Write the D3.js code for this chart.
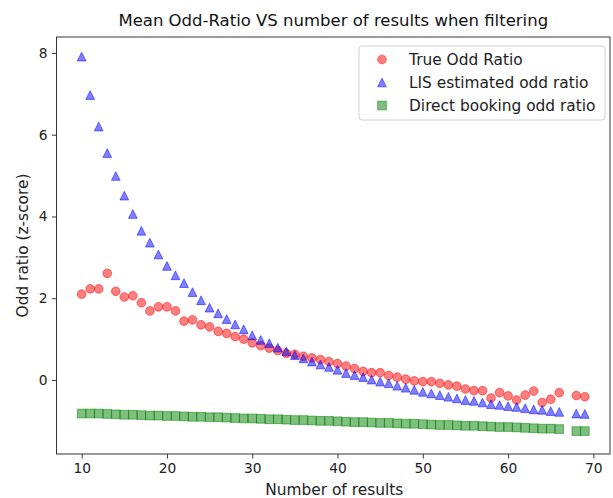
<!DOCTYPE html>
<html>
<head>
<meta charset="utf-8">
<script src="https://cdn.jsdelivr.net/npm/d3@7"></script>
<style>
  body { margin: 0; background: #fff; }
  text { font-family: "DejaVu Sans", sans-serif; fill: #000; }
  .tick-label { font-size: 13.8px; fill: #222; }
  .axis-label { font-size: 15.4px; fill: #222; }
  .legend-label { font-size: 15.4px; fill: #222; }
</style>
</head>
<body>
<div id="chart"></div>
<script>
// ---- data ----
const nResults = [10, 11, 12, 13, 14, 15, 16, 17, 18, 19,
                  20, 21, 22, 23, 24, 25, 26, 27, 28, 29,
                  30, 31, 32, 33, 34, 35, 36, 37, 38, 39,
                  40, 41, 42, 43, 44, 45, 46, 47, 48, 49,
                  50, 51, 52, 53, 54, 55, 56, 57, 58, 59,
                  60, 61, 62, 63, 64, 65, 66, 68, 69];

const trueOdd = [2.10, 2.23, 2.23, 2.61, 2.17, 2.03, 2.06, 1.89, 1.69, 1.79,
                 1.79, 1.69, 1.44, 1.47, 1.35, 1.30, 1.19, 1.14, 1.06, 1.00,
                 0.91, 0.84, 0.78, 0.72, 0.65, 0.63, 0.58, 0.54, 0.50, 0.45,
                 0.40, 0.34, 0.28, 0.21, 0.18, 0.18, 0.11, 0.07, 0.02, -0.02,
                 -0.04, -0.04, -0.08, -0.12, -0.15, -0.22, -0.26, -0.26, -0.44, -0.31,
                 -0.39, -0.49, -0.37, -0.27, -0.55, -0.47, -0.31, -0.38, -0.41];

const lisOdd = [7.91, 6.97, 6.20, 5.55, 4.99, 4.51, 4.06, 3.65, 3.36, 3.07,
                2.79, 2.56, 2.37, 2.15, 1.95, 1.77, 1.63, 1.49, 1.36, 1.24,
                1.09, 0.98, 0.90, 0.79, 0.70, 0.61, 0.53, 0.45, 0.38, 0.32,
                0.25, 0.17, 0.12, 0.07, 0.01, -0.04, -0.08, -0.14, -0.19, -0.24,
                -0.29, -0.33, -0.37, -0.41, -0.45, -0.49, -0.51, -0.55, -0.59, -0.61,
                -0.64, -0.66, -0.69, -0.72, -0.73, -0.76, -0.78, -0.82, -0.83];

const directOdd = [-0.82, -0.82, -0.82, -0.83, -0.84, -0.85, -0.85, -0.86, -0.87, -0.87,
                   -0.88, -0.88, -0.89, -0.90, -0.90, -0.91, -0.91, -0.92, -0.93, -0.94,
                   -0.94, -0.95, -0.96, -0.96, -0.97, -0.98, -0.98, -0.99, -1.00, -1.00,
                   -1.01, -1.02, -1.03, -1.03, -1.04, -1.05, -1.05, -1.06, -1.07, -1.07,
                   -1.08, -1.09, -1.10, -1.10, -1.11, -1.12, -1.12, -1.13, -1.14, -1.15,
                   -1.15, -1.16, -1.17, -1.18, -1.19, -1.19, -1.20, -1.25, -1.25];

const xTicks = [10, 20, 30, 40, 50, 60, 70];
const yTicks = [0, 2, 4, 6, 8];
const seriesNames = ["True Odd Ratio", "LIS estimated odd ratio", "Direct booking odd ratio"];
const seriesColors = ["#ff0000", "#0000ff", "#008000"];

const width = 613, height = 498;
const margin = { left: 56.5, right: 3, top: 37, bottom: 44 };

const svg = d3.select("#chart").append("svg")
    .attr("width", width)
    .attr("height", height);

// scales
const x = d3.scaleLinear().domain([7.05, 71.95]).range([margin.left, width - margin.right]);
const y = d3.scaleLinear().domain([-1.81, 8.39]).range([height - margin.bottom, margin.top]);

// markers
const mk = 8.7;
const shapes = {
    circle: (g) => g.append("circle").attr("r", mk / 2),
    triangle: (g) => g.append("path").attr("d", `M0,${-mk / 2}L${-mk / 2},${mk / 2}L${mk / 2},${mk / 2}Z`),
    square: (g) => g.append("rect").attr("x", -mk / 2).attr("y", -mk / 2).attr("width", mk).attr("height", mk)
};
const series = [
    { name: seriesNames[0], values: trueOdd, color: seriesColors[0], shape: "circle" },
    { name: seriesNames[1], values: lisOdd, color: seriesColors[1], shape: "triangle" },
    { name: seriesNames[2], values: directOdd, color: seriesColors[2], shape: "square" }
];

const plot = svg.append("g");
series.forEach(s => {
    const pts = plot.append("g").selectAll("g")
        .data(nResults.map((n, i) => ({ n, v: s.values[i] })))
        .join("g")
        .attr("transform", d => `translate(${x(d.n)},${y(d.v)})`);
    pts.each(function () {
        shapes[s.shape](d3.select(this))
            .attr("fill", s.color).attr("fill-opacity", 0.5)
            .attr("stroke", s.color).attr("stroke-opacity", 0.5).attr("stroke-width", 1);
    });
});

// axes
const xAxis = svg.append("g")
    .attr("transform", `translate(0,${height - margin.bottom})`)
    .call(d3.axisBottom(x).tickValues(xTicks).tickSize(4.5).tickPadding(4.5));
const yAxis = svg.append("g")
    .attr("transform", `translate(${margin.left},0)`)
    .call(d3.axisLeft(y).tickValues(yTicks).tickSize(4.5).tickPadding(4.5));
[xAxis, yAxis].forEach(a => {
    a.select(".domain").remove();
    a.selectAll(".tick line").attr("stroke", "#222").attr("stroke-width", 0.9);
    a.selectAll(".tick text").attr("class", "tick-label").attr("font-family", null).attr("font-size", null);
});

// frame
svg.append("rect")
    .attr("x", margin.left).attr("y", margin.top)
    .attr("width", width - margin.right - margin.left)
    .attr("height", height - margin.bottom - margin.top)
    .attr("fill", "none").attr("stroke", "#222").attr("stroke-width", 0.9);

// labels
svg.append("text")
    .text("Mean Odd-Ratio VS number of results when filtering")
    .attr("x", (margin.left + width - margin.right) / 2)
    .attr("y", 26)
    .attr("text-anchor", "middle")
    .style("font-size", "16.5px")
    .style("fill", "#111");

svg.append("text")
    .text("Number of results")
    .attr("class", "axis-label")
    .attr("x", (margin.left + width - margin.right) / 2 + 1)
    .attr("y", 495)
    .attr("text-anchor", "middle");

svg.append("text")
    .text("Odd ratio (z-score)")
    .attr("class", "axis-label")
    .attr("transform", `translate(28,${(margin.top + height - margin.bottom) / 2}) rotate(-90)`)
    .attr("text-anchor", "middle");

// legend
const legend = svg.append("g").attr("transform", "translate(359,46)");
legend.append("rect")
    .attr("width", 246).attr("height", 74).attr("rx", 3)
    .attr("fill", "#fff").attr("fill-opacity", 0.8)
    .attr("stroke", "#d0d0d0").attr("stroke-width", 1);
series.forEach((s, i) => {
    const g = legend.append("g").attr("transform", `translate(23,${13.5 + i * 23})`);
    shapes[s.shape](g)
        .attr("fill", s.color).attr("fill-opacity", 0.5)
        .attr("stroke", s.color).attr("stroke-opacity", 0.5).attr("stroke-width", 1);
    g.append("text")
        .attr("class", "legend-label")
        .attr("x", 27).attr("y", 5.5)
        .text(s.name);
});
</script>
</body>
</html>
